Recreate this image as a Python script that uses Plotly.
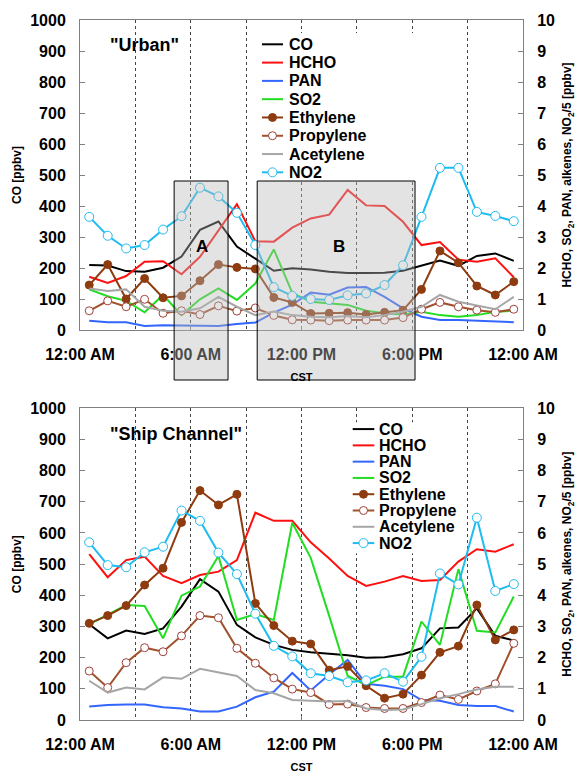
import plotly.graph_objects as go

# Hour-of-day bin centres (CST) and x-axis labelling
hours = [0.5, 1.5, 2.5, 3.5, 4.5, 5.5, 6.5, 7.5, 8.5, 9.5, 10.5, 11.5,
         12.5, 13.5, 14.5, 15.5, 16.5, 17.5, 18.5, 19.5, 20.5, 21.5, 22.5, 23.5]
tick_hours = [0, 6, 12, 18, 24]
tick_labels = ["12:00 AM", "6:00 AM", "12:00 PM", "6:00 PM", "12:00 AM"]

species = ["CO", "HCHO", "PAN", "SO2", "Ethylene", "Propylene", "Acetylene", "NO2"]

# "Urban" site: CO in ppbv (left axis); others in ppbv on right axis (NO2 shown as NO2/5)
urban_co = [210, 208, 190, 188, 201, 237, 323, 350, 269, 231, 191, 199,
            195, 188, 184, 184, 185, 191, 207, 224, 207, 239, 247, 223]
urban_hcho = [1.72, 1.52, 1.74, 2.20, 2.22, 1.80, 2.36, 3.22, 4.06, 2.86, 2.85, 3.30,
              3.60, 3.72, 4.52, 4.02, 4.00, 3.49, 2.74, 2.84, 2.27, 2.20, 2.31, 1.70]
urban_pan = [0.30, 0.25, 0.25, 0.13, 0.15, 0.15, 0.15, 0.13, 0.19, 0.24, 0.56, 0.82,
             1.21, 1.14, 1.37, 1.39, 1.07, 0.70, 0.43, 0.32, 0.32, 0.30, 0.27, 0.25]
urban_so2 = [1.31, 1.09, 0.94, 0.57, 1.13, 0.48, 0.99, 1.34, 0.97, 1.50, 2.60, 1.20,
             0.91, 0.85, 0.81, 0.62, 0.54, 0.50, 0.59, 0.48, 0.43, 0.48, 0.59, 0.62]
urban_ethylene = [1.45, 2.11, 1.00, 1.66, 1.04, 1.10, 1.59, 2.11, 2.02, 1.97, 1.05, 0.89,
                  0.53, 0.54, 0.56, 0.50, 0.57, 0.64, 1.31, 2.55, 2.17, 1.42, 1.13, 1.56]
urban_propylene = [0.62, 0.94, 0.75, 0.99, 0.54, 0.62, 0.50, 0.78, 0.61, 0.71, 0.47, 0.33,
                   0.32, 0.30, 0.32, 0.32, 0.32, 0.40, 0.67, 0.89, 0.75, 0.64, 0.57, 0.67]
urban_acetylene = [1.34, 1.26, 1.31, 0.75, 0.62, 0.59, 0.70, 1.07, 0.75, 0.48, 0.60, 0.48,
                   0.43, 0.41, 0.45, 0.41, 0.48, 0.59, 0.75, 1.13, 0.91, 0.80, 0.67, 1.07]
urban_no2 = [3.65, 3.04, 2.63, 2.74, 3.24, 3.67, 4.59, 4.31, 3.78, 2.74, 1.38, 1.10,
             1.00, 0.97, 1.12, 1.18, 1.45, 2.09, 3.65, 5.23, 5.23, 3.81, 3.68, 3.51]

# "Ship Channel" site
ship_co = [307, 262, 287, 276, 294, 364, 452, 412, 305, 265, 241, 225,
           217, 213, 208, 200, 201, 211, 230, 294, 297, 358, 270, 255]
ship_hcho = [5.32, 4.58, 5.13, 5.24, 4.62, 4.39, 4.65, 4.76, 5.13, 6.65, 6.39, 6.39,
             5.70, 5.18, 4.62, 4.30, 4.44, 4.62, 4.46, 4.49, 5.08, 5.48, 5.40, 5.64]
ship_pan = [0.43, 0.48, 0.50, 0.50, 0.41, 0.37, 0.27, 0.27, 0.43, 0.73, 0.91, 1.51,
            0.95, 1.46, 1.93, 1.16, 1.10, 0.99, 0.64, 0.62, 0.48, 0.45, 0.45, 0.27]
ship_so2 = [3.07, 3.37, 3.69, 3.66, 2.62, 3.99, 4.28, 5.26, 3.21, 3.40, 3.21, 6.33,
            5.20, 3.34, 1.42, 1.12, 1.39, 1.39, 3.16, 2.41, 4.84, 2.86, 2.81, 3.96]
ship_ethylene = [3.10, 3.35, 3.67, 4.33, 4.87, 6.34, 7.36, 6.90, 7.24, 3.74, 3.03, 2.53,
                 2.44, 1.60, 1.72, 1.10, 0.70, 0.83, 1.44, 2.17, 2.37, 3.69, 2.57, 2.89]
ship_propylene = [1.57, 1.04, 1.84, 2.32, 2.19, 2.70, 3.35, 3.28, 2.30, 1.82, 1.35, 0.99,
                  0.88, 0.50, 0.51, 0.40, 0.37, 0.37, 0.56, 0.80, 0.66, 0.93, 1.16, 2.46]
ship_acetylene = [1.26, 0.88, 1.04, 0.98, 1.37, 1.32, 1.64, 1.53, 1.41, 0.96, 0.86, 0.64,
                  0.62, 0.59, 0.61, 0.37, 0.32, 0.34, 0.51, 0.70, 0.83, 0.98, 1.07, 1.07]
ship_no2 = [5.70, 4.97, 4.90, 5.38, 5.56, 6.72, 6.39, 5.37, 4.68, 3.41, 2.38, 2.04,
            1.50, 1.41, 1.21, 1.27, 1.50, 1.23, 2.03, 4.70, 4.35, 6.49, 4.14, 4.36]

urban = [urban_co, urban_hcho, urban_pan, urban_so2, urban_ethylene,
         urban_propylene, urban_acetylene, urban_no2]
ship = [ship_co, ship_hcho, ship_pan, ship_so2, ship_ethylene,
        ship_propylene, ship_acetylene, ship_no2]

FONT = "Liberation Sans, Arial, sans-serif"
BROWN = "#8E3B10"
STYLE = {
    "CO":        dict(color="#000000", marker=None),
    "HCHO":      dict(color="#FF1010", marker=None),
    "PAN":       dict(color="#3366FF", marker=None),
    "SO2":       dict(color="#22DD22", marker=None),
    "Ethylene":  dict(color=BROWN, marker=dict(fill=BROWN, edge=BROWN, size=8)),
    "Propylene": dict(color="#A0522D", marker=dict(fill="#FFFFFF", edge="#A0403A", size=8)),
    "Acetylene": dict(color="#A6A6A6", marker=None),
    "NO2":       dict(color="#1EBCF0", marker=dict(fill="#FFFFFF", edge="#1EBCF0", size=9)),
}

fig = go.Figure()


def add_panel(values, xa, ya_left, ya_right):
    for name, ys in zip(species, values):
        st = STYLE[name]
        kw = dict(x=hours, y=ys, name=name, showlegend=False,
                  xaxis=xa, yaxis=ya_left if name == "CO" else ya_right,
                  line=dict(color=st["color"], width=2))
        if st["marker"]:
            m = st["marker"]
            kw["mode"] = "lines+markers"
            kw["marker"] = dict(symbol="circle", size=m["size"], color=m["fill"],
                                line=dict(color=m["edge"], width=1))
        else:
            kw["mode"] = "lines"
        fig.add_trace(go.Scatter(**kw))


add_panel(urban, "x", "y", "y2")
add_panel(ship, "x2", "y3", "y4")


def add_legend(xd, yd, lx0, lx1, tx, y0, dy, bg):
    # white backing behind the entries (covers the dotted gridlines there)
    fig.add_shape(type="rect", xref=xd, yref=yd, x0=bg[0], x1=bg[1], y0=bg[2], y1=bg[3],
                  fillcolor="white", line=dict(width=0), layer="above")
    for i, name in enumerate(species):
        st = STYLE[name]
        yy = y0 - i * dy
        fig.add_shape(type="line", xref=xd, yref=yd, x0=lx0, x1=lx1, y0=yy, y1=yy,
                      line=dict(color=st["color"], width=2), layer="above")
        if st["marker"]:
            m = st["marker"]
            r = m["size"] / 2
            fig.add_shape(type="circle", xref=xd, yref=yd,
                          xsizemode="pixel", ysizemode="pixel",
                          xanchor=(lx0 + lx1) / 2, yanchor=yy,
                          x0=-r, x1=r, y0=-r, y1=r,
                          fillcolor=m["fill"], line=dict(color=m["edge"], width=1),
                          layer="above")
        fig.add_annotation(xref=xd, yref=yd, x=tx, y=yy, text=name, showarrow=False,
                           xanchor="left", yanchor="middle",
                           font=dict(family=FONT, size=16, color="black", weight="bold"))


add_legend("x domain", "y domain", 0.4108, 0.4582, 0.4673, 0.9216, 0.0590,
           (0.395, 0.765, 0.4806, 0.958))
add_legend("x2 domain", "y3 domain", 0.6156, 0.6643, 0.6711, 0.9333, 0.05224,
           (0.598, 0.86, 0.535, 0.955))

# panel labels
fig.add_annotation(xref="x domain", yref="y domain", x=0.1467, y=0.919, text='"Urban"',
                   showarrow=False, xanchor="center", yanchor="middle",
                   font=dict(family=FONT, size=18, color="black", weight="bold"))
fig.add_annotation(xref="x2 domain", yref="y3 domain", x=0.2167, y=0.9167,
                   text='"Ship Channel"', showarrow=False, xanchor="center", yanchor="middle",
                   font=dict(family=FONT, size=18, color="black", weight="bold"))

# shaded time windows A and B on the urban panel
for (h0, h1, label, hx) in [(5.1, 8.02, "A", 6.6), (9.6, 18.15, "B", 14.03)]:
    fig.add_shape(type="rect", xref="x", yref="paper", x0=h0, x1=h1, y0=0.4857, y1=0.77,
                  fillcolor="rgba(185,185,185,0.4)", line=dict(color="black", width=1),
                  layer="above")
    fig.add_annotation(xref="x", yref="y", x=hx, y=268, text=label, showarrow=False,
                       xanchor="center", yanchor="middle",
                       font=dict(family=FONT, size=17, color="black", weight="bold"))

tickfont = dict(family=FONT, size=16, color="black", weight="bold")
titlefont = dict(family=FONT, size=12, color="black", weight="bold")
LINE = "#808080"

xcommon = dict(range=[0, 24], tickmode="array", tickvals=tick_hours, ticktext=tick_labels,
               tickfont=tickfont, showline=True, linecolor=LINE, linewidth=1, mirror=True,
               ticks="inside", ticklen=4, tickcolor=LINE,
               showgrid=True, gridcolor="#444444", gridwidth=1, griddash="dot",
               minor=dict(dtick=3, tick0=0, showgrid=True, gridcolor="#444444",
                          gridwidth=1, griddash="dot"),
               ticklabelstandoff=10, zeroline=False, automargin=False,
               title=dict(text="CST", font=dict(family=FONT, size=11, color="black",
                                                weight="bold"), standoff=11))
yleft = dict(range=[0, 1000], dtick=100, tickfont=tickfont, showline=True, linecolor=LINE,
             linewidth=1, mirror=True, ticks="inside", ticklen=5, tickcolor=LINE,
             showgrid=False, zeroline=False, ticklabelstandoff=10, automargin=False,
             title=dict(text="CO [ppbv]", font=titlefont, standoff=6))
yright = dict(range=[0, 10], dtick=1, tickfont=tickfont, showline=True, linecolor=LINE,
              linewidth=1, ticks="inside", ticklen=5, tickcolor=LINE, side="right",
              showgrid=False, zeroline=False, ticklabelstandoff=10, automargin=False,
              title=dict(text="HCHO, SO<sub>2</sub>, PAN, alkenes, NO<sub>2</sub>/5 [ppbv]",
                         font=titlefont, standoff=8))

top_dom = [0.55714, 1.0]
bot_dom = [0.0, 0.4453]

fig.update_layout(
    width=576, height=773,
    margin=dict(l=80, r=53, t=20, b=53),
    paper_bgcolor="white", plot_bgcolor="white",
    showlegend=False,
    font=dict(family=FONT, color="black"),
    xaxis=dict(anchor="y", domain=[0, 1], **xcommon),
    yaxis=dict(anchor="x", domain=top_dom, **yleft),
    yaxis2=dict(anchor="x", overlaying="y", **yright),
    xaxis2=dict(anchor="y3", domain=[0, 1], **xcommon),
    yaxis3=dict(anchor="x2", domain=bot_dom, **yleft),
    yaxis4=dict(anchor="x2", overlaying="y3", **yright),
)

fig.write_html("out.html")
